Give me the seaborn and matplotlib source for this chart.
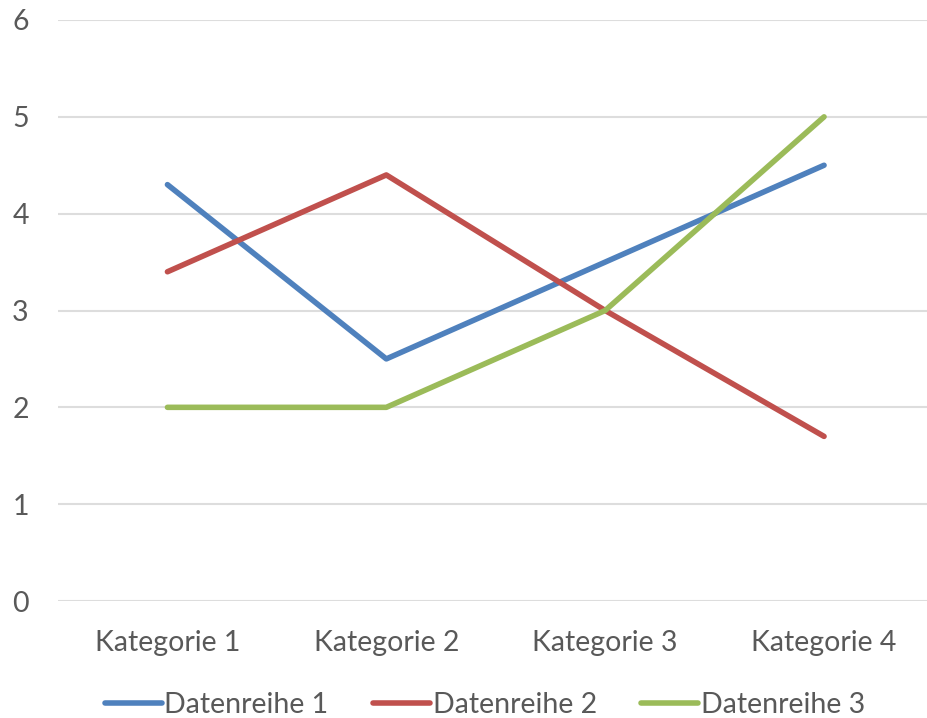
import pandas as pd
import matplotlib
matplotlib.use("Agg")
import matplotlib.pyplot as plt
import seaborn as sns

# Werte
kategorien = ["Kategorie 1", "Kategorie 2", "Kategorie 3", "Kategorie 4"]
reihe1 = [4.3, 2.5, 3.5, 4.5]
reihe2 = [3.4, 4.4, 3.0, 1.7]
reihe3 = [2.0, 2.0, 3.0, 5.0]
namen = ["Datenreihe 1", "Datenreihe 2", "Datenreihe 3"]
farben = ["#4f81bd", "#c0504d", "#9bbb59"]

df = pd.DataFrame({
    "Kategorie": kategorien * 3,
    "x": list(range(len(kategorien))) * 3,
    "Wert": reihe1 + reihe2 + reihe3,
    "Reihe": [namen[0]] * 4 + [namen[1]] * 4 + [namen[2]] * 4,
})

sns.set_style("white")
plt.rcParams["font.family"] = ["Lato", "DejaVu Sans"]
text_farbe = "#595959"

fig = plt.figure(figsize=(9.27, 7.18), dpi=100)
ax = fig.add_axes([58 / 927, 117 / 718, 1 - 58 / 927, 581 / 718])

sns.lineplot(data=df, x="x", y="Wert", hue="Reihe", palette=farben,
             linewidth=4.0, ax=ax, legend=False, sort=False)
for l in ax.lines:
    l.set_solid_capstyle("round")

ax.set_xlim(-0.5, 3 + 103 / 219)
ax.set_ylim(0, 6)
ax.set_yticks(range(0, 7))
ax.set_xticks(range(len(kategorien)))
ax.set_xticklabels(kategorien)
ax.yaxis.grid(True, color="#dddddd", linewidth=1.5)
ax.set_axisbelow(True)
for s in ax.spines.values():
    s.set_visible(False)
ax.tick_params(axis="both", length=0, labelsize=20.5, colors=text_farbe)
ax.tick_params(axis="y", pad=21)
ax.tick_params(axis="x", pad=21)
ax.set_xlabel("")
ax.set_ylabel("")

handles = [plt.Line2D([], [], color=c, linewidth=4.0, solid_capstyle="round") for c in farben]
fig.legend(handles, namen, loc="lower center", bbox_to_anchor=(0.523, -0.036), ncol=3,
           frameon=False, fontsize=20.5, labelcolor=text_farbe, handlelength=2.0,
           handletextpad=0.1, columnspacing=1.55)

fig.savefig("out.png", dpi=100)
